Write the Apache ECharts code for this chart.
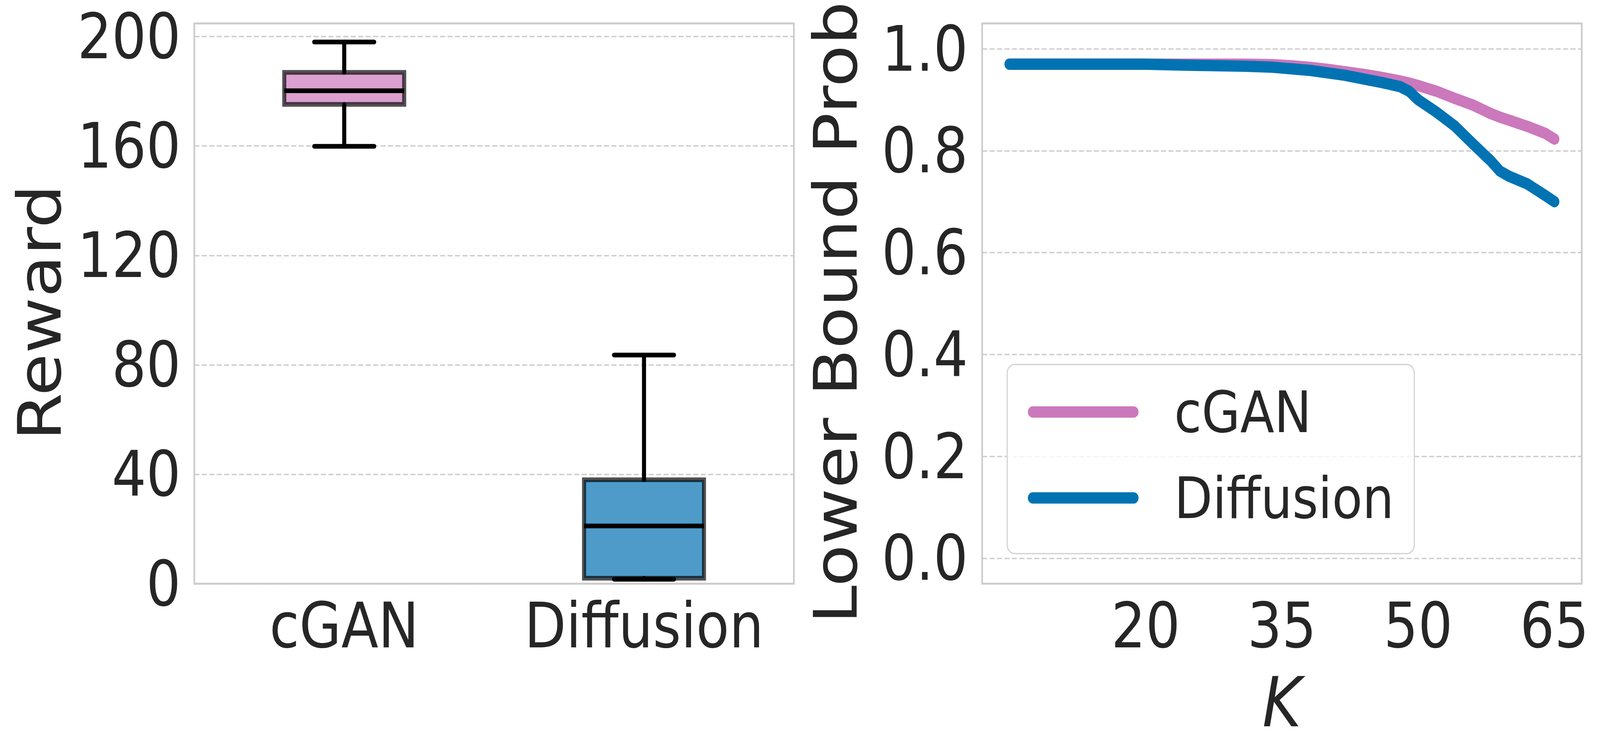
<!DOCTYPE html>
<html>
<head>
<meta charset="utf-8">
<script src="https://cdn.jsdelivr.net/npm/echarts@6/dist/echarts.min.js"></script>
<style>html,body{margin:0;padding:0;background:#fff;overflow:hidden}#c{position:absolute;left:0;top:0;width:4726px;height:1912px;transform-origin:0 0}</style>
</head>
<body>
<div id="c"></div>
<script>
// ---- Data ----
const boxCategories = ['cGAN', 'Diffusion'];
// [lower whisker, Q1, median, Q3, upper whisker]
const cganReward = [159.9, 175.2, 180.2, 186.9, 198.0];
const diffusionReward = [1.6, 2.0, 21.1, 38.0, 83.6];
const rewardTicks = [0, 40, 80, 120, 160, 200];

const kValues = [5, 10, 15, 20, 22, 25, 28, 31, 34, 36, 38, 40, 42, 44, 46, 48, 49, 50, 52, 54, 56, 58, 59, 60, 62, 64, 65];
const cganProb = [0.970, 0.970, 0.970, 0.970, 0.970, 0.970, 0.970, 0.970, 0.969, 0.967, 0.964, 0.960, 0.955, 0.950, 0.944, 0.937, 0.933, 0.928, 0.917, 0.903, 0.890, 0.873, 0.866, 0.860, 0.848, 0.834, 0.823];
const diffusionProb = [0.970, 0.970, 0.970, 0.970, 0.969, 0.968, 0.967, 0.966, 0.964, 0.961, 0.958, 0.953, 0.948, 0.941, 0.934, 0.926, 0.917, 0.900, 0.876, 0.849, 0.814, 0.780, 0.760, 0.750, 0.735, 0.712, 0.700];
const kTicks = [20, 35, 50, 65];
const probTicks = [0, 0.2, 0.4, 0.6, 0.8, 1.0];

// ---- Fit the 4726 x 1912 design to the actual viewport ----
const el = document.getElementById('c');
const vw = window.innerWidth || 4726, vh = window.innerHeight || 1912;
el.style.transform = 'scale(' + (vw / 4726) + ',' + (vh / 1912) + ')';

// ---- Styles ----
const boxFill = ['#DAA0D0', '#4E9BCA'];
const boxEdge = 'rgba(0,0,0,0.68)';
const lineColors = ['#CC78BC', '#0173B2'];
const txt = '#262626';
const FONT = 'DejaVu Sans';
const gridLine = { show: true, lineStyle: { color: '#cccccc', width: 3.3, type: [15, 7] } };
const frame = { show: true, borderColor: '#cccccc', borderWidth: 5, backgroundColor: 'transparent' };
const xLabel = { fontSize: 160, lineHeight: 120, color: txt, margin: 47, fontFamily: FONT };

const boxData = [cganReward, diffusionReward].map((s, i) => [i].concat(s));

const chart = echarts.init(el, null, { renderer: 'svg', width: 4726, height: 1912 });
chart.setOption({
  backgroundColor: '#ffffff',
  animation: false,
  textStyle: { fontFamily: FONT },
  grid: [
    Object.assign({ left: 574, top: 60, width: 1771, height: 1434 }, frame),
    Object.assign({ left: 2901, top: 60, width: 1771, height: 1434 }, frame)
  ],
  xAxis: [
    {
      gridIndex: 0, type: 'category', data: boxCategories,
      axisLine: { show: false }, axisTick: { show: false },
      axisLabel: Object.assign({ interval: 0 }, xLabel),
      splitLine: { show: false }
    },
    {
      gridIndex: 1, type: 'value', min: 2, max: 68,
      axisLine: { show: false },
      axisTick: { show: false, customValues: kTicks },
      axisLabel: Object.assign({ customValues: kTicks }, xLabel),
      splitLine: { show: false },
      name: 'K', nameLocation: 'middle', nameGap: 229,
      nameTextStyle: { fontSize: 176, lineHeight: 150, color: txt, fontStyle: 'italic', fontFamily: FONT }
    }
  ],
  yAxis: [
    {
      gridIndex: 0, type: 'value', min: 0, max: 204.8,
      axisLine: { show: false },
      axisTick: { show: false, customValues: rewardTicks },
      axisLabel: { fontSize: 160, color: txt, margin: 40, fontFamily: FONT, customValues: rewardTicks },
      splitLine: gridLine,
      name: 'Reward', nameLocation: 'middle', nameGap: 368,
      nameTextStyle: { fontSize: 176, color: txt, fontFamily: FONT, padding: [0, 46, 0, 0] }
    },
    {
      gridIndex: 1, type: 'value', min: -0.05, max: 1.05,
      axisLine: { show: false },
      axisTick: { show: false, customValues: probTicks },
      axisLabel: { fontSize: 160, color: txt, margin: 42, fontFamily: FONT, customValues: probTicks,
        formatter: v => Number(v).toFixed(1) },
      splitLine: gridLine,
      name: 'Lower Bound Prob', nameLocation: 'middle', nameGap: 344,
      nameTextStyle: { fontSize: 176, color: txt, fontFamily: FONT, padding: [0, 46, 0, 0] }
    }
  ],
  legend: {
    orient: 'vertical', left: 2975, top: 933,
    data: ['cGAN', 'Diffusion'],
    itemWidth: 298, itemHeight: 29, itemGap: 45,
    padding: [34, 60, 55, 61],
    backgroundColor: 'rgba(255,255,255,0.8)',
    borderColor: '#d5d5d5', borderWidth: 3.5, borderRadius: 22,
    lineStyle: { width: 29, cap: 'round' },
    textStyle: { fontSize: 147, color: txt, fontFamily: FONT, lineHeight: 175, padding: [0, 0, 0, 115] }
  },
  series: [
    {
      type: 'custom', xAxisIndex: 0, yAxisIndex: 0, data: boxData,
      renderItem: function (params, api) {
        const i = api.value(0);
        const lo = api.coord([i, api.value(1)]);
        const q1 = api.coord([i, api.value(2)]);
        const md = api.coord([i, api.value(3)]);
        const q3 = api.coord([i, api.value(4)]);
        const hi = api.coord([i, api.value(5)]);
        const bw = api.size([1, 0])[0] * 0.4;
        const cx = md[0];
        const wl = { stroke: '#000', lineWidth: 12, lineCap: 'round' };
        return {
          type: 'group',
          children: [
            { type: 'rect', shape: { x: cx - bw / 2, y: q3[1], width: bw, height: q1[1] - q3[1] },
              style: { fill: boxFill[params.dataIndex], stroke: boxEdge, lineWidth: 12 } },
            { type: 'line', shape: { x1: cx, y1: q3[1], x2: cx, y2: hi[1] }, style: wl },
            { type: 'line', shape: { x1: cx, y1: q1[1], x2: cx, y2: lo[1] }, style: wl },
            { type: 'line', shape: { x1: cx - bw / 4, y1: hi[1], x2: cx + bw / 4, y2: hi[1] }, style: wl },
            { type: 'line', shape: { x1: cx - bw / 4, y1: lo[1], x2: cx + bw / 4, y2: lo[1] }, style: wl },
            { type: 'line', shape: { x1: cx - bw / 2, y1: md[1], x2: cx + bw / 2, y2: md[1] }, style: { stroke: '#000', lineWidth: 12, lineCap: 'butt' } }
          ]
        };
      }
    },
    {
      name: 'cGAN', type: 'line', xAxisIndex: 1, yAxisIndex: 1,
      data: kValues.map((k, i) => [k, cganProb[i]]),
      symbol: 'none', color: lineColors[0],
      lineStyle: { width: 29, color: lineColors[0], cap: 'round', join: 'round' }
    },
    {
      name: 'Diffusion', type: 'line', xAxisIndex: 1, yAxisIndex: 1,
      data: kValues.map((k, i) => [k, diffusionProb[i]]),
      symbol: 'none', color: lineColors[1],
      lineStyle: { width: 29, color: lineColors[1], cap: 'round', join: 'round' }
    }
  ]
});
</script>
</body>
</html>
